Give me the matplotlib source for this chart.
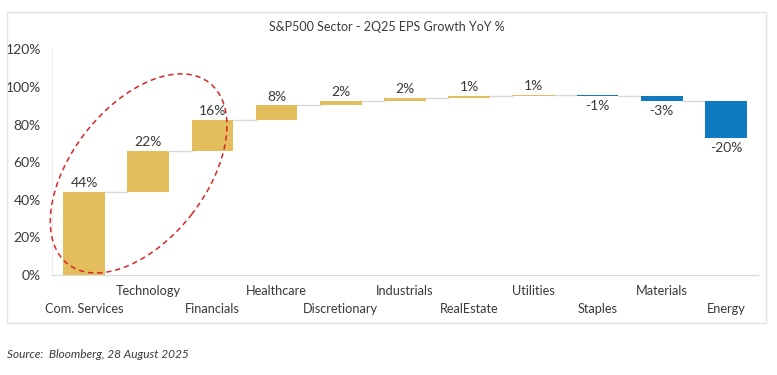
import matplotlib.pyplot as plt
import numpy as np
from matplotlib.patches import Ellipse, Rectangle
from matplotlib.transforms import ScaledTranslation

plt.rcParams['font.family'] = ['Lato', 'DejaVu Sans']

sectors = ['Com. Services', 'Technology', 'Financials', 'Healthcare', 'Discretionary',
           'Industrials', 'RealEstate', 'Utilities', 'Staples', 'Materials', 'Energy']
growth = [44.0, 22.0, 16.4, 7.8, 2.2, 1.6, 1.2, 0.6, -0.6, -2.6, -19.6]
yticks = [0, 20, 40, 60, 80, 100, 120]

gold = '#E4BE5C'
blue = '#0E7BC1'
txt = '#3A3A3A'
grey = '#D9D9D9'

growth = np.array(growth)
x = np.arange(len(sectors))
top = np.cumsum(growth)
bottom = top - growth
colors = [gold if g >= 0 else blue for g in growth]

fig = plt.figure(figsize=(7.77, 3.75), dpi=100)
ax = fig.add_axes([0.0669, 0.2667, 0.9086, 0.6018])

# chart frame
fig.patches.append(Rectangle((0.009, 0.139), 0.977, 0.829, transform=fig.transFigure,
                             fill=False, edgecolor='#E3E3E3', lw=1))

width = 0.65
ax.bar(x, growth, bottom=bottom, width=width, color=colors, zorder=3)

# connectors
for i in range(len(x) - 1):
    ax.plot([x[i] + width / 2, x[i + 1] - width / 2], [top[i], top[i]],
            color=grey, lw=1, zorder=2)

# value labels
for i, g in enumerate(growth):
    lab = f'{round(g):d}%'
    if g >= 0:
        ax.annotate(lab, (x[i], top[i]), xytext=(0, 2), textcoords='offset points',
                    ha='center', va='bottom', fontsize=10, color=txt)
    else:
        ax.annotate(lab, (x[i], top[i]), xytext=(0, -3), textcoords='offset points',
                    ha='center', va='top', fontsize=10, color=txt)

# staggered category labels
for i, name in enumerate(sectors):
    off = -34 if i % 2 == 0 else -16.5
    ax.annotate(name, (x[i], 0), xycoords=('data', 'axes fraction'),
                xytext=(0, off * 0.72), textcoords='offset points',
                ha='center', va='center', fontsize=9.2, color=txt, annotation_clip=False)

ax.set_xlim(-0.5, len(x) - 0.5)
ax.set_ylim(0, 120)
ax.set_yticks(yticks)
ax.set_yticklabels([f'{t}%' for t in yticks], fontsize=10, color=txt)
ax.set_xticks([])
ax.tick_params(axis='y', length=0, pad=8)
for s in ['top', 'right']:
    ax.spines[s].set_visible(False)
ax.spines['left'].set_color('#EEEEEE')
ax.spines['bottom'].set_color(grey)

# highlight ellipse around top three sectors
ell = Ellipse((0, 0), 2.30, 1.34, angle=52,
              transform=fig.dpi_scale_trans + ScaledTranslation(0.85, 54.0, ax.transData),
              fill=False, edgecolor='#D7262B', lw=1.1, ls=(0, (3.5, 2.5)), clip_on=False, zorder=5)
ax.add_artist(ell)

fig.text(0.498, 0.928, 'S&P500 Sector - 2Q25 EPS Growth YoY %', ha='center', va='center',
         fontsize=9, color=txt)
fig.text(0.009, 0.056, 'Source:  Bloomberg, 28 August 2025', ha='left', va='center',
         fontsize=8.6, style='italic', color=txt)

fig.savefig('out.png', dpi=100)
